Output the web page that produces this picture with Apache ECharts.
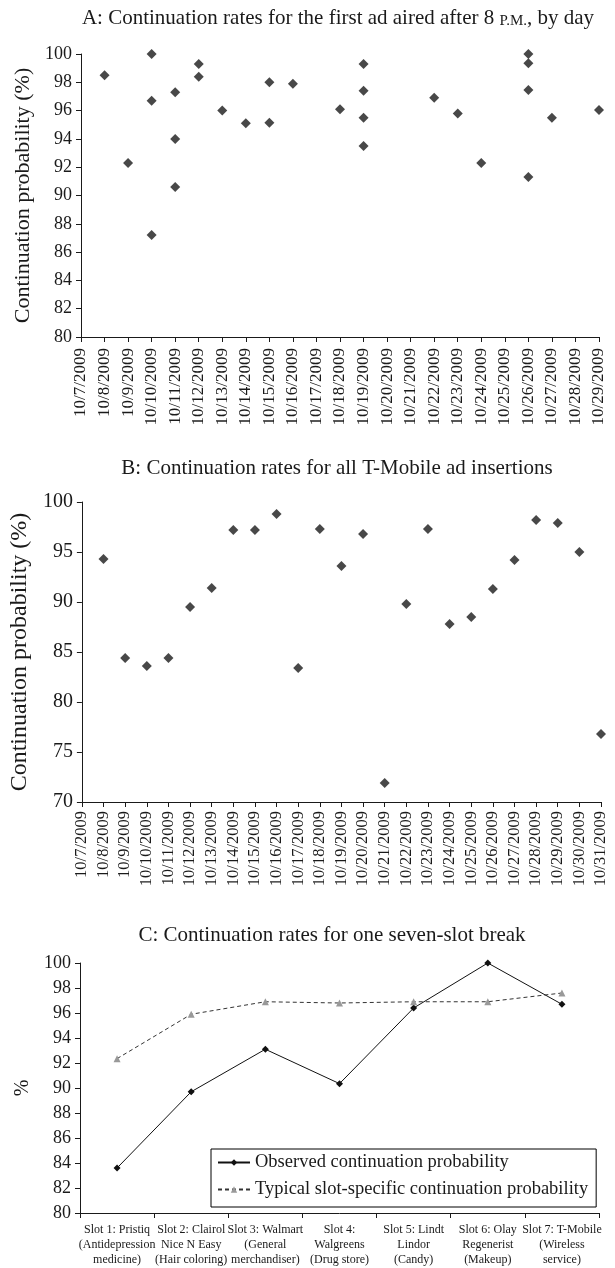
<!DOCTYPE html>
<html>
<head>
<meta charset="utf-8">
<script src="https://cdn.jsdelivr.net/npm/echarts@6/dist/echarts.min.js"></script>
<style>
html, body { margin: 0; padding: 0; background: #fff; }
#chart { width: 615px; height: 1268px; }
</style>
</head>
<body>
<div id="chart"></div>
<script>
// panel A: first ad after 8 PM, by day (several points per day)
var daysA = ['10/7/2009', '10/8/2009', '10/9/2009', '10/10/2009', '10/11/2009', '10/12/2009',
    '10/13/2009', '10/14/2009', '10/15/2009', '10/16/2009', '10/17/2009', '10/18/2009',
    '10/19/2009', '10/20/2009', '10/21/2009', '10/22/2009', '10/23/2009', '10/24/2009',
    '10/25/2009', '10/26/2009', '10/27/2009', '10/28/2009', '10/29/2009'];
var pointDatesA = ['10/8/2009', '10/9/2009',
    '10/10/2009', '10/10/2009', '10/10/2009',
    '10/11/2009', '10/11/2009', '10/11/2009',
    '10/12/2009', '10/12/2009',
    '10/13/2009', '10/14/2009',
    '10/15/2009', '10/15/2009',
    '10/16/2009', '10/18/2009',
    '10/19/2009', '10/19/2009', '10/19/2009', '10/19/2009',
    '10/22/2009', '10/23/2009', '10/24/2009',
    '10/26/2009', '10/26/2009', '10/26/2009', '10/26/2009',
    '10/27/2009', '10/29/2009'];
var pointValuesA = [98.5, 92.3,
    100, 96.7, 87.2,
    97.3, 94.0, 90.6,
    99.3, 98.4,
    96.0, 95.1,
    98.0, 95.15,
    97.9, 96.1,
    99.3, 97.4, 95.5, 93.5,
    96.9, 95.8, 92.3,
    100, 99.35, 97.45, 91.3,
    95.5, 96.05];

// panel B: all T-Mobile insertions
var daysB = ['10/7/2009', '10/8/2009', '10/9/2009', '10/10/2009', '10/11/2009', '10/12/2009',
    '10/13/2009', '10/14/2009', '10/15/2009', '10/16/2009', '10/17/2009', '10/18/2009',
    '10/19/2009', '10/20/2009', '10/21/2009', '10/22/2009', '10/23/2009', '10/24/2009',
    '10/25/2009', '10/26/2009', '10/27/2009', '10/28/2009', '10/29/2009', '10/30/2009',
    '10/31/2009'];
var ratesB = [null, 94.3, 84.4, 83.6, 84.4, 89.5, 91.4, 97.2, 97.2, 98.8, 83.4, 97.3,
    93.6, 96.8, 71.9, 89.8, 97.3, 87.8, 88.5, 91.3, 94.2, 98.2, 97.9, 95.0, 76.8];

// panel C: one seven-slot break
var slots = ['Slot 1: Pristiq\n(Antidepression\nmedicine)',
    'Slot 2: Clairol\nNice N Easy\n(Hair coloring)',
    'Slot 3: Walmart\n(General\nmerchandiser)',
    'Slot 4:\nWalgreens\n(Drug store)',
    'Slot 5: Lindt\nLindor\n(Candy)',
    'Slot 6: Olay\nRegenerist\n(Makeup)',
    'Slot 7: T-Mobile\n(Wireless\nservice)'];
var observed = [83.6, 89.7, 93.1, 90.35, 96.4, 100, 96.7];
var typical = [92.35, 95.9, 96.9, 96.8, 96.9, 96.9, 97.6];

var FONT = "'Liberation Serif', 'Times New Roman', serif";
var INK = '#1a1a1a';

var dom = document.getElementById('chart');
var myChart = echarts.init(dom);

function yAxisBase(gridIndex, min, max, step, labelSize, name, nameSize, nameGap) {
    return {
        gridIndex: gridIndex,
        type: 'value',
        min: min,
        max: max,
        interval: step,
        name: name,
        nameLocation: 'middle',
        nameGap: nameGap,
        nameTextStyle: { fontFamily: FONT, fontSize: nameSize, color: INK },
        axisLine: { show: true, lineStyle: { color: INK, width: 1 } },
        axisTick: { show: true, length: 5, lineStyle: { color: INK } },
        axisLabel: { fontFamily: FONT, fontSize: labelSize, color: INK, margin: 9 },
        splitLine: { show: false }
    };
}

function dateAxis(gridIndex, days, labelSize, margin) {
    return {
        gridIndex: gridIndex,
        type: 'category',
        data: days,
        boundaryGap: false,
        axisLine: { lineStyle: { color: INK, width: 1 } },
        axisTick: { show: true, length: 5, interval: 0, lineStyle: { color: INK } },
        axisLabel: { interval: 0, rotate: 90, fontFamily: FONT, fontSize: labelSize, color: INK, margin: margin },
        splitLine: { show: false }
    };
}

var titleStyle = {
    fontFamily: FONT,
    fontSize: 21,
    fontWeight: 'normal',
    color: INK,
    rich: {
        sc: { fontFamily: FONT, fontSize: 15, color: INK, verticalAlign: 'bottom' }
    }
};

option = {
    backgroundColor: '#fff',
    animation: false,
    title: [
        { text: 'A: Continuation rates for the first ad aired after 8 {sc|P.M.}, by day',
          left: 338, top: 18, textAlign: 'center', textVerticalAlign: 'middle', padding: 0, textStyle: titleStyle },
        { text: 'B: Continuation rates for all T-Mobile ad insertions',
          left: 337, top: 468, textAlign: 'center', textVerticalAlign: 'middle', padding: 0, textStyle: titleStyle },
        { text: 'C: Continuation rates for one seven-slot break',
          left: 332, top: 935, textAlign: 'center', textVerticalAlign: 'middle', padding: 0, textStyle: titleStyle }
    ],
    grid: [
        { left: 81, top: 54, width: 518, height: 283 },
        { left: 81, top: 502, width: 520, height: 300 },
        { left: 80, top: 963, width: 519, height: 250 }
    ],
    legend: {
        data: ['Observed continuation probability', 'Typical slot-specific continuation probability'],
        orient: 'vertical',
        left: 211,
        top: 1149,
        padding: [4, 8, 8, 6],
        itemWidth: 32,
        itemHeight: 8,
        itemGap: 8,
        borderColor: '#000',
        borderWidth: 1,
        textStyle: { fontFamily: FONT, fontSize: 18.5, color: INK }
    },
    xAxis: [
        dateAxis(0, daysA, 17, 11),
        dateAxis(1, daysB, 16.5, 9),
        {
            gridIndex: 2,
            type: 'category',
            data: slots,
            boundaryGap: true,
            axisLine: { lineStyle: { color: INK, width: 1 } },
            axisTick: { show: true, length: 5, lineStyle: { color: INK } },
            axisLabel: { interval: 0, fontFamily: FONT, fontSize: 12, lineHeight: 15, color: INK, margin: 9 },
            splitLine: { show: false }
        }
    ],
    yAxis: [
        yAxisBase(0, 80, 100, 2, 18, 'Continuation probability (%)', 22, 46),
        yAxisBase(1, 70, 100, 5, 20, 'Continuation probability (%)', 24, 47),
        yAxisBase(2, 80, 100, 2, 18, '%', 20, 38)
    ],
    series: [
        {
            name: 'first ad after 8 PM',
            type: 'scatter',
            xAxisIndex: 0,
            yAxisIndex: 0,
            symbol: 'diamond',
            symbolSize: 10,
            itemStyle: { color: INK },
            data: pointDatesA.map(function (d, i) { return [d, pointValuesA[i]]; })
        },
        {
            name: 'all T-Mobile insertions',
            type: 'scatter',
            xAxisIndex: 1,
            yAxisIndex: 1,
            symbol: 'diamond',
            symbolSize: 10,
            itemStyle: { color: INK },
            data: ratesB
        },
        {
            name: 'Observed continuation probability',
            type: 'line',
            xAxisIndex: 2,
            yAxisIndex: 2,
            symbol: 'diamond',
            symbolSize: 7,
            itemStyle: { color: '#111' },
            lineStyle: { color: '#111', width: 1 },
            data: observed
        },
        {
            name: 'Typical slot-specific continuation probability',
            type: 'line',
            xAxisIndex: 2,
            yAxisIndex: 2,
            symbol: 'triangle',
            symbolSize: 7,
            itemStyle: { color: '#999' },
            lineStyle: { color: '#333', width: 1, type: [4, 3] },
            data: typical
        }
    ]
};
myChart.setOption(option, true);

window.onresize = function () {
    myChart.resize();
};
</script>
</body>
</html>
